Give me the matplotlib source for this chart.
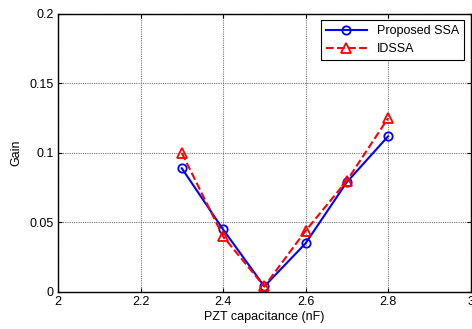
import matplotlib
matplotlib.use('Agg')
import matplotlib.pyplot as plt

plt.rcParams['font.family'] = ['Liberation Sans', 'DejaVu Sans']
plt.rcParams['font.size'] = 9

capacitance = [2.3, 2.4, 2.5, 2.6, 2.7, 2.8]
gain_ssa = [0.089, 0.045, 0.004, 0.035, 0.079, 0.112]
gain_idssa = [0.100, 0.040, 0.004, 0.044, 0.080, 0.125]

xticks = [2, 2.2, 2.4, 2.6, 2.8, 3]
yticks = [0, 0.05, 0.1, 0.15, 0.2]

fig = plt.figure(figsize=(4.72, 3.29), dpi=100)
ax = fig.add_axes([0.123, 0.1125, 0.874, 0.845])

ax.plot(capacitance, gain_ssa, color='b', marker='o', markersize=6,
        markerfacecolor='none', markeredgewidth=1.3, linewidth=1.5, label='Proposed SSA')
ax.plot(capacitance, gain_idssa, color='r', linestyle='--', marker='^', markersize=7,
        markerfacecolor='none', markeredgewidth=1.3, linewidth=1.5, label='IDSSA')

ax.set_xlim(2, 3)
ax.set_ylim(0, 0.2)
ax.set_xticks(xticks)
ax.set_xticklabels(['2', '2.2', '2.4', '2.6', '2.8', '3'])
ax.set_yticks(yticks)
ax.set_yticklabels(['0', '0.05', '0.1', '0.15', '0.2'])
ax.tick_params(direction='in', length=3, top=True, right=True, pad=3)
ax.grid(True, color='#777777', linestyle=(0, (1, 1)), linewidth=0.8)
for s in ax.spines.values():
    s.set_linewidth(1.0)

ax.set_xlabel('PZT capacitance (nF)', labelpad=2)
ax.set_ylabel('Gain', labelpad=5)

leg = ax.legend(loc='upper right', fancybox=False, edgecolor='black', framealpha=1,
                borderaxespad=0.5, handlelength=3.3, labelspacing=0.5, fontsize=9)
leg.get_frame().set_linewidth(0.8)

fig.savefig('out.png', dpi=100)
